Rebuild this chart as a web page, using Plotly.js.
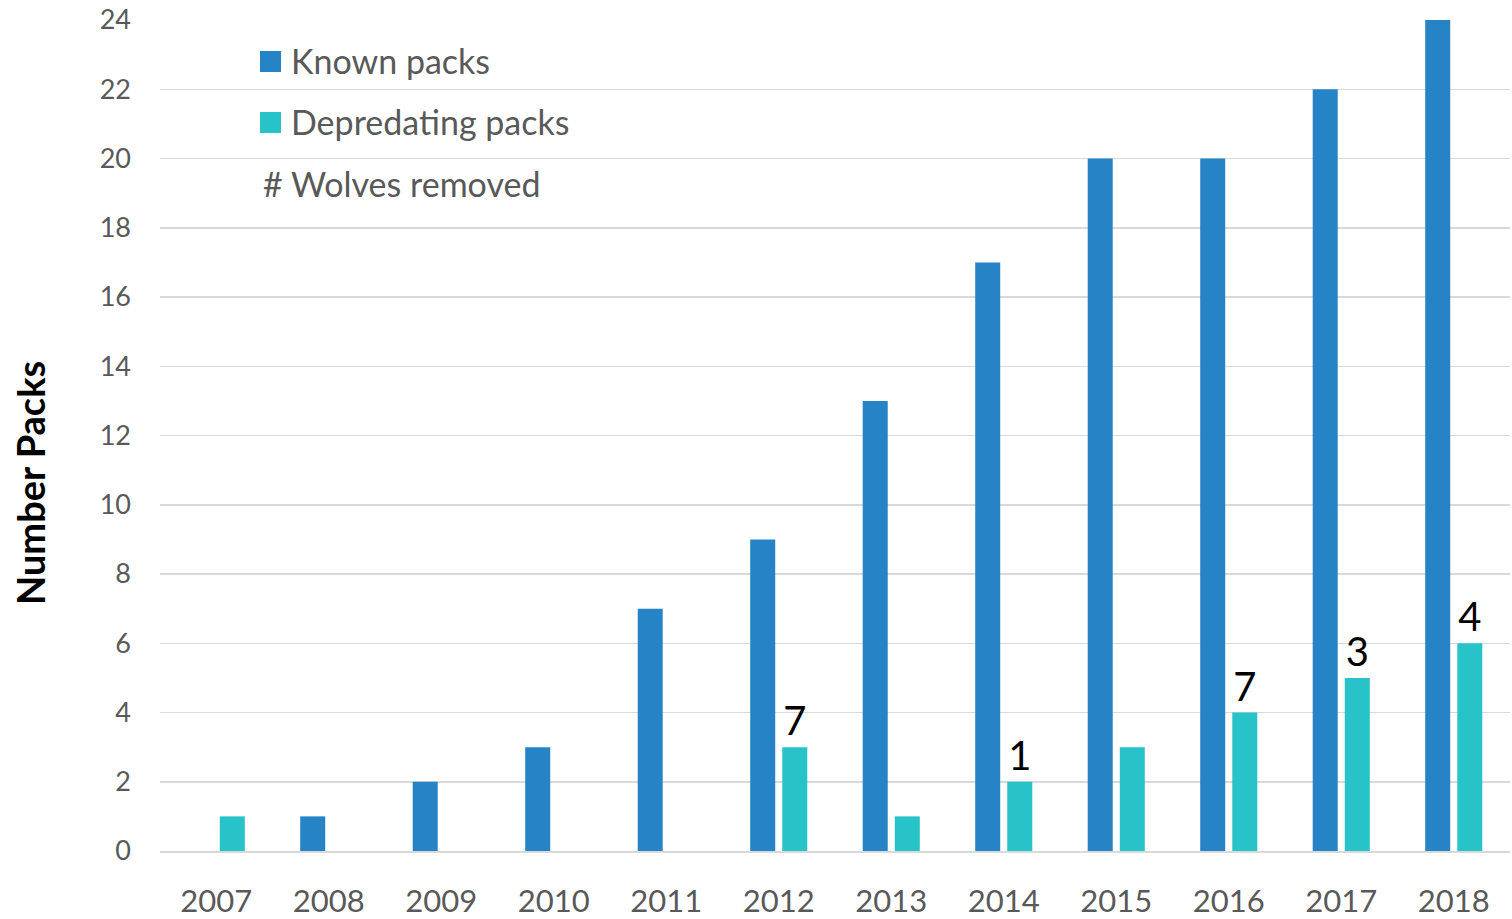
<!DOCTYPE html>
<html>
<head>
<meta charset="utf-8">
<script src="https://cdn.plot.ly/plotly-3.0.1.min.js"></script>
<style>html,body{margin:0;padding:0;background:#fff;}#chart{width:1512px;height:919px;}</style>
</head>
<body>
<div id="chart"></div>
<script>
const years = ['2007','2008','2009','2010','2011','2012','2013','2014','2015','2016','2017','2018'];
const knownPacks = [0, 1, 2, 3, 7, 9, 13, 17, 20, 20, 22, 24];
const depredatingPacks = [1, 0, 0, 0, 0, 3, 1, 2, 3, 4, 5, 6];
const wolvesRemoved = ['', '', '', '', '', '7', '', '1', '', '7', '3', '4'];
const yTicks = [0, 2, 4, 6, 8, 10, 12, 14, 16, 18, 20, 22, 24];

const FONT = 'Lato, "Open Sans", sans-serif';
const KNOWN = '#2683C6';
const DEP = '#27C3C9';

const traces = [
  {type: 'bar', name: 'Known packs', x: years, y: knownPacks, marker: {color: KNOWN}, hoverinfo: 'x+y'},
  {type: 'bar', name: 'Depredating packs', x: years, y: depredatingPacks, marker: {color: DEP},
   text: wolvesRemoved, textposition: 'outside', cliponaxis: false,
   textfont: {family: FONT, size: 40, color: '#000'}, hoverinfo: 'x+y'}
];

const px = v => (v - 160) / 1350;
const py = v => (851 - v) / 831;

const layout = {
  width: 1512, height: 919,
  margin: {l: 160, r: 2, t: 20, b: 68},
  paper_bgcolor: '#fff', plot_bgcolor: '#fff',
  font: {family: FONT, color: '#595959'},
  barmode: 'group', bargap: 0.43, bargroupgap: 0.22,
  showlegend: false,
  xaxis: {type: 'category', range: [-0.5, 11.5], tickfont: {size: 31, color: '#595959'},
          showgrid: false, showline: true, linecolor: '#d9d9d9', linewidth: 1.5,
          ticks: '', ticklabelstandoff: 22, zeroline: false},
  yaxis: {range: [0, 24], tickvals: yTicks, ticktext: yTicks.map(String),
          tickfont: {size: 27, color: '#595959'}, showgrid: true, gridcolor: '#d9d9d9', gridwidth: 1.5,
          zeroline: false, showline: false, ticks: '', ticklabelstandoff: 28},
  shapes: [
    {type: 'rect', xref: 'paper', yref: 'paper', x0: px(260), x1: px(281),
     y0: py(72), y1: py(51), fillcolor: KNOWN, line: {width: 0}},
    {type: 'rect', xref: 'paper', yref: 'paper', x0: px(260), x1: px(281),
     y0: py(133), y1: py(112), fillcolor: DEP, line: {width: 0}}
  ],
  annotations: [
    {xref: 'paper', yref: 'paper', x: px(289), y: py(61), xanchor: 'left', yanchor: 'middle',
     text: 'Known packs', showarrow: false, font: {size: 34, color: '#595959', family: FONT}},
    {xref: 'paper', yref: 'paper', x: px(289), y: py(122), xanchor: 'left', yanchor: 'middle',
     text: 'Depredating packs', showarrow: false, font: {size: 34, color: '#595959', family: FONT}},
    {xref: 'paper', yref: 'paper', x: px(261), y: py(184), xanchor: 'left', yanchor: 'middle',
     text: '# Wolves removed', showarrow: false, font: {size: 34, color: '#595959', family: FONT}},
    {xref: 'paper', yref: 'paper', x: px(30), y: py(483), xanchor: 'center', yanchor: 'middle',
     textangle: -90, text: '<b>Number Packs</b>', showarrow: false,
     font: {size: 38, color: '#000', family: FONT}}
  ]
};

Plotly.newPlot('chart', traces, layout, {displayModeBar: false, staticPlot: true});
</script>
</body>
</html>
